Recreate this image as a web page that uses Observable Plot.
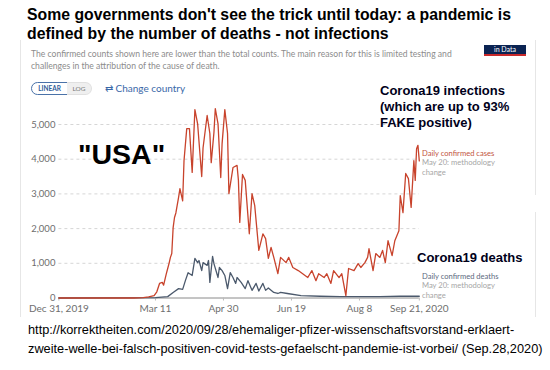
<!DOCTYPE html>
<html>
<head>
<meta charset="utf-8">
<script src="https://cdn.jsdelivr.net/npm/d3@7"></script>
<script src="https://cdn.jsdelivr.net/npm/@observablehq/plot@0.6"></script>
<style>
  html, body { margin: 0; padding: 0; background: #fff; }
  #wrap { position: relative; width: 550px; height: 370px; overflow: hidden; background: #fff; }
  #wrap > * { position: absolute; }
  .t { white-space: nowrap; }
  .title { font-family: "Liberation Sans", Arial, sans-serif; font-weight: bold; color: #000; }
  .lato { font-family: Lato, sans-serif; }
</style>
</head>
<body>
<div id="wrap"></div>
<script>
// ---- data ----
const startDate = Date.UTC(2019, 11, 31); // Dec 31, 2019
const caseDays = [0, 55, 62, 66, 70, 72, 74, 76, 77, 79, 80, 81, 82, 83, 84, 85, 86, 88, 89, 91, 92, 94, 96, 98, 100, 102, 105, 106, 109, 111, 112, 114, 115, 117, 119, 120, 122, 124, 125, 128, 131, 132, 133, 135, 137, 140, 142, 144, 147, 150, 152, 154, 156, 158, 161, 163, 167, 169, 172, 176, 183, 186, 189, 191, 195, 197, 200, 202, 206, 208, 211, 213, 217, 220, 222, 225, 227, 228, 231, 233, 236, 238, 240, 242, 245, 247, 250, 251, 253, 255, 257, 259, 261, 262, 263, 264, 265];
const caseValues = [0, 0, 10, 30, 70, 180, 420, 450, 370, 700, 850, 1000, 1170, 1280, 2030, 2320, 2450, 2900, 3150, 2800, 3960, 4880, 4880, 3620, 5430, 5020, 3500, 4330, 5260, 4740, 3900, 4770, 5460, 5020, 3470, 4450, 5430, 4740, 3010, 3760, 3820, 3390, 2180, 3560, 3390, 1850, 3010, 2660, 1370, 1850, 1710, 1140, 1460, 1170, 700, 1170, 1020, 1170, 880, 790, 590, 790, 500, 700, 590, 700, 420, 790, 590, 700, 70, 850, 790, 990, 880, 1020, 1170, 1420, 790, 1280, 1170, 1370, 1020, 1650, 1220, 1650, 1940, 2950, 2460, 3590, 3440, 2610, 3960, 3390, 4300, 4400, 3950];
const deathDays = [0, 71, 80, 84, 88, 91, 93, 95, 98, 100, 102, 103, 105, 106, 109, 110, 111, 113, 114, 117, 118, 120, 122, 124, 126, 128, 130, 131, 134, 137, 139, 142, 145, 147, 150, 152, 154, 158, 161, 163, 168, 178, 192, 207, 222, 236, 251, 265];
const deathValues = [0, 10, 40, 160, 270, 250, 500, 730, 650, 1140, 1020, 1080, 790, 1020, 940, 1080, 450, 1200, 990, 590, 880, 790, 650, 270, 730, 590, 420, 590, 450, 270, 500, 220, 420, 200, 420, 220, 290, 160, 130, 160, 130, 70, 50, 40, 40, 40, 50, 50];
const yTicks = [0, 1000, 2000, 3000, 4000, 5000];
const xTickDays = [0, 71, 121, 171, 221, 265];
const xTickLabels = ["Dec 31, 2019", "Mar 11", "Apr 30", "Jun 19", "Aug 8", "Sep 21, 2020"];

const toDate = d => new Date(startDate + d * 864e5);
const cases = caseDays.map((d, i) => ({date: toDate(d), value: caseValues[i]}));
const deaths = deathDays.map((d, i) => ({date: toDate(d), value: deathValues[i]}));
const xTicks = xTickDays.map(toDate);
const labelOf = new Map(xTicks.map((d, i) => [+d, xTickLabels[i]]));

const chart = Plot.plot({
  width: 550,
  height: 370,
  marginLeft: 58.4,
  marginRight: 131.2,
  marginTop: 106.65,
  marginBottom: 72.5,
  style: {fontFamily: "Lato, sans-serif", color: "#666", background: "transparent", overflow: "visible"},
  x: {type: "utc", domain: [toDate(0), toDate(265)], label: null},
  y: {domain: [0, 5500], label: null},
  marks: [
    Plot.ruleY(yTicks.slice(1), {stroke: "#d6d6d6", strokeDasharray: "3,3"}),
    Plot.ruleY([0], {stroke: "#8a8a8a"}),
    Plot.axisY({ticks: yTicks, tickFormat: d3.format(","), tickSize: 0, tickPadding: 3.5, fontSize: 9.5, fill: "#6e6e6e", label: null}),
    Plot.axisX({ticks: xTicks, tickFormat: d => labelOf.get(+d), tickSize: 3, tickPadding: 4, fontSize: 10, fill: "#6e6e6e", stroke: "#bbb", label: null}),
    Plot.line(deaths, {x: "date", y: "value", stroke: "#4b596c", strokeWidth: 1.3}),
    Plot.line(cases, {x: "date", y: "value", stroke: "#c8432c", strokeWidth: 1.3})
  ]
});

const wrap = document.getElementById("wrap");
function add(html, css, cls) {
  const el = document.createElement("div");
  if (cls) el.className = cls;
  el.innerHTML = html;
  el.style.cssText = "position:absolute;" + css;
  wrap.appendChild(el);
  return el;
}
// frame of the screenshot
add("", "left:20px;top:40px;width:1px;height:277px;background:#e6e6e6;");
add("", "left:535px;top:40px;width:1px;height:155px;background:#e6e6e6;");
add("", "left:535px;top:212px;width:1px;height:105px;background:#e6e6e6;");

chart.style.position = "absolute";
chart.style.left = "0px";
chart.style.top = "0px";
wrap.appendChild(chart);

// headline
add("Some governments don't see the trick until today: a pandemic is<br>defined by the number of deaths - not infections",
    "left:27px;top:5px;font-size:15.8px;line-height:19px;", "t title");
// OWID subtitle
add("The confirmed counts shown here are lower than the total counts. The main reason for this is limited testing and<br>challenges in the attribution of the cause of death.",
    "left:31px;top:48px;font-size:8.6px;line-height:12px;color:#8c8c8c;", "t lato");
// logo
add("<div style='color:#fff;font-family:Lato;font-size:7px;line-height:9px;text-align:center'>in Data</div>",
    "left:484px;top:45px;width:42px;height:9px;background:#0b2352;border-bottom:2px solid #c8292a;");
// linear / log
add("LINEAR", "left:31px;top:82px;width:35px;height:11px;border:1px solid #4a72a8;border-radius:7px 0 0 7px;font-size:6.5px;line-height:11px;text-align:center;color:#2f5d99;font-weight:bold;", "t lato");
add("LOG", "left:67px;top:82px;width:24px;height:11px;border:1px solid #e0e0e0;border-left:none;background:#efefef;border-radius:0 7px 7px 0;font-size:6.5px;line-height:11px;text-align:center;color:#777;", "t lato");
add("&#8644; Change country", "left:105px;top:82px;font-size:10px;line-height:12px;color:#3a68a8;", "t lato");
// annotations
add("\"USA\"", "left:78px;top:138px;font-size:28.5px;line-height:32px;", "t title");
add("Corona19 infections<br>(which are up to 93%<br>FAKE positive)", "left:380px;top:83px;font-size:13px;line-height:16px;color:#00001a;", "t title");
add("Corona19 deaths", "left:417px;top:250px;font-size:13px;line-height:16px;color:#00001a;", "t title");
// line labels
add("<span style='color:#c2553f'>Daily confirmed cases</span><br>May 20: methodology<br>change",
    "left:422px;top:149.4px;font-size:7.6px;line-height:9.1px;color:#a6a6a6;", "t lato");
add("<span style='color:#5d6a80'>Daily confirmed deaths</span><br>May 20: methodology<br>change",
    "left:422px;top:272.4px;font-size:7.6px;line-height:9.1px;color:#a6a6a6;", "t lato");
// source
add("http://korrektheiten.com/2020/09/28/ehemaliger-pfizer-wissenschaftsvorstand-erklaert-<br>zweite-welle-bei-falsch-positiven-covid-tests-gefaelscht-pandemie-ist-vorbei/ (Sep.28,2020)",
    "left:28px;top:321px;font-size:12.75px;line-height:18.5px;color:#000;font-family:'Liberation Sans',Arial,sans-serif;", "t");
</script>
</body>
</html>
